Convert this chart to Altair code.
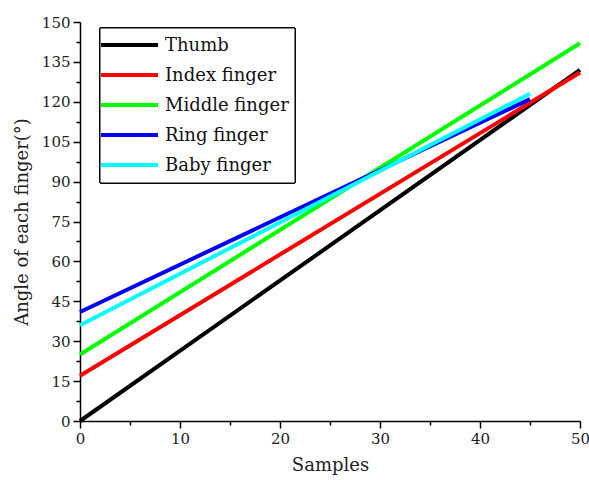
import altair as alt
import pandas as pd

series = ["Thumb", "Index finger", "Middle finger", "Ring finger", "Baby finger"]
colors = ["#000000", "#FF0000", "#00FF00", "#0000FF", "#00FFFF"]
x_start = [0, 0, 0, 0, 0]
x_end = [50, 50, 50, 45, 45]
y_start = [0, 17, 25, 41, 36]
y_end = [132, 131, 142, 121, 123]

x_major = [0, 10, 20, 30, 40, 50]
x_minor = [5, 15, 25, 35, 45]
y_major = [0, 15, 30, 45, 60, 75, 90, 105, 120, 135, 150]
y_minor = [7.5, 22.5, 37.5, 52.5, 67.5, 82.5, 97.5, 112.5, 127.5, 142.5]

rows = []
for i, s in enumerate(series):
    rows.append({"series": s, "order": i, "x": x_start[i], "y": y_start[i]})
    rows.append({"series": s, "order": i, "x": x_end[i], "y": y_end[i]})
df = pd.DataFrame(rows)
leg = pd.DataFrame({"series": series})

FONT = "DejaVu Serif"
color = alt.Color("series:N", scale=alt.Scale(domain=series, range=colors), legend=None)

lines = alt.Chart(df).mark_line(strokeWidth=4, strokeCap="butt").encode(
    x=alt.X("x:Q", scale=alt.Scale(domain=[0, 50], nice=False),
            axis=alt.Axis(values=x_major, title="Samples", orient="bottom", grid=False,
                          tickSize=7, labelPadding=3, titlePadding=10,
                          labelFlush=False, labelOverlap=False)),
    y=alt.Y("y:Q", scale=alt.Scale(domain=[0, 150], nice=False),
            axis=alt.Axis(values=y_major, title="Angle of each finger(°)", orient="left",
                          grid=False, tickSize=7, labelPadding=3, titlePadding=10,
                          labelFlush=False, labelOverlap=False)),
    color=color,
    detail="series:N",
)

minor = alt.Chart(df).mark_point(opacity=0).encode(
    x=alt.X("x:Q", scale=alt.Scale(domain=[0, 50], nice=False),
            axis=alt.Axis(values=x_minor, title=None, labels=False, domain=False,
                          orient="bottom", grid=False, tickSize=4)),
    y=alt.Y("y:Q", scale=alt.Scale(domain=[0, 150], nice=False),
            axis=alt.Axis(values=y_minor, title=None, labels=False, domain=False,
                          orient="left", grid=False, tickSize=4)),
)

box = alt.Chart(leg).mark_rect(fill="white", stroke="black", strokeWidth=1).encode(
    x=alt.value(20), x2=alt.value(215), y=alt.value(6), y2=alt.value(161)
)

ly = alt.Y("series:N", scale=alt.Scale(type="point", domain=series, range=[23, 143], padding=0),
           axis=None)

leg_lines = alt.Chart(leg).mark_rule(strokeWidth=4).encode(
    x=alt.value(21), x2=alt.value(78), y=ly, color=color
)
leg_text = alt.Chart(leg).mark_text(align="left", baseline="middle", font=FONT,
                                    fontSize=18, color="#111111", dy=1).encode(
    x=alt.value(85), y=ly, text="series:N"
)

chart = alt.layer(lines, minor, box, leg_lines, leg_text).resolve_scale(
    x="independent", y="independent"
).resolve_axis(x="independent", y="independent").properties(
    width=500, height=399,
    autosize=alt.AutoSizeParams(type="none"),
    padding={"left": 80, "top": 22, "right": 9, "bottom": 59},
).configure_view(stroke=None).configure_axis(
    labelFont=FONT, titleFont=FONT, labelFontSize=15, titleFontSize=18,
    labelColor="#222222", titleColor="#222222", titleFontWeight="normal",
    domainColor="black", tickColor="black", domainWidth=1.5, tickWidth=1.5,
)

chart.save("out.html", embed_options={"renderer": "svg", "actions": False})
